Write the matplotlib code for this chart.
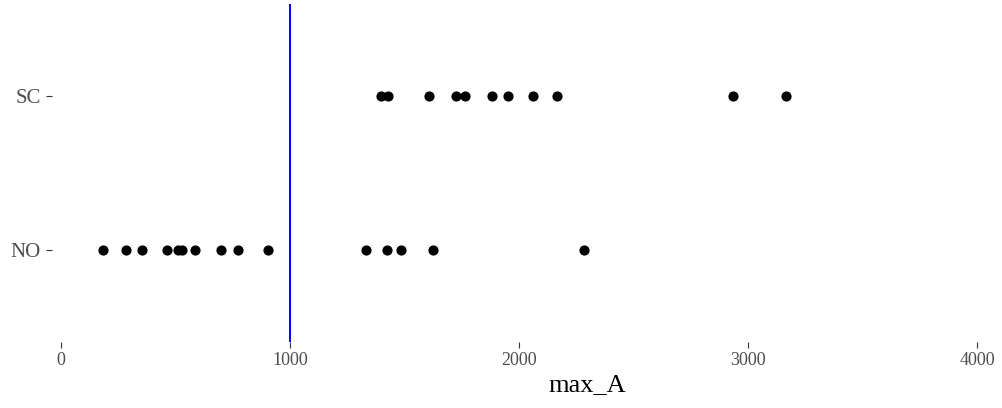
import numpy as np
import matplotlib
matplotlib.use("Agg")
import matplotlib.pyplot as plt

# max_A values
no_vals = [183, 284, 354, 463, 510, 530, 585, 700, 773, 905,
           1330, 1424, 1485, 1623, 2285]
sc_vals = [1397, 1428, 1609, 1725, 1764, 1882, 1952, 2061, 2166, 2934, 3166]
groups = ['NO', 'SC']
x_ticks = [0, 1000, 2000, 3000, 4000]
cutoff = 1000

W, H = 1002, 408
fig = plt.figure(figsize=(W / 100, H / 100), dpi=100)
# panel in pixel coords: left 52, right 1002, top 4, bottom 342
ax = fig.add_axes([52 / W, 1 - 342 / H, (W - 52) / W, (342 - 4) / H])

plt.rcParams['font.family'] = ['Liberation Serif', 'DejaVu Serif']

ax.scatter(no_vals, [1] * len(no_vals), s=40, color='black', zorder=3)
ax.scatter(sc_vals, [2] * len(sc_vals), s=40, color='black', zorder=3)
ax.axvline(cutoff, color='blue', lw=1.4, zorder=2)

# 0 sits at px 61, 4000 at px 977
px_per = (977 - 61) / 4000
ax.set_xlim((52 - 61) / px_per, (W - 61) / px_per)
ax.set_ylim(0.4, 2.6)

ax.set_xticks(x_ticks)
ax.set_xticklabels([str(t) for t in x_ticks], family='Liberation Serif')
ax.set_yticks([1, 2])
ax.set_yticklabels(groups, family='Liberation Serif')
ax.tick_params(axis='both', colors='#333333', labelcolor='#4D4D4D',
               labelsize=13, length=4, width=0.8, pad=3)
ax.tick_params(axis='y', labelsize=15, pad=4)

for s in ax.spines.values():
    s.set_visible(False)

ax.set_xlabel('max_A', fontsize=19, family='Liberation Serif', color='black')
ax.xaxis.set_label_coords((587 - 52) / (W - 52), -0.095)
ax.xaxis.label.set_va('top')

fig.savefig('out.png', dpi=100)
